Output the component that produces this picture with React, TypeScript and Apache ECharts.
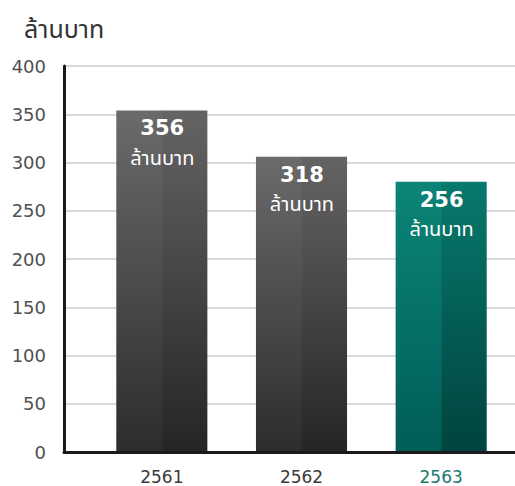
import React, { useEffect, useRef } from "react";
import * as echarts from "echarts";

const categories = ["2561", "2562", "2563"];
// bar heights as drawn in the picture
const barValues = [354, 306, 280];
// values printed on the bars
const labelValues = ["356", "318", "256"];
const unitText = "ล้านบาท";
const yTicks = { min: 0, max: 400, interval: 50 };

const FONT = "'DejaVu Sans', 'Noto Sans Thai', 'Noto Sans', sans-serif";

const grad = (a: string, b: string) =>
  new echarts.graphic.LinearGradient(0, 0, 0, 1, [
    { offset: 0, color: a },
    { offset: 1, color: b },
  ]);

const leftColors = [
  ["#6b6b6b", "#2e2b2c"],
  ["#6b6b6b", "#2e2b2c"],
  ["#0b8577", "#005d57"],
];
const rightColors = [
  ["#656465", "#272425"],
  ["#656465", "#272425"],
  ["#08796d", "#00433e"],
];

export default function App() {
  const ref = useRef<HTMLDivElement>(null);
  useEffect(() => {
    if (!ref.current) return;
    const chart = echarts.init(ref.current, undefined, { renderer: "svg" });
    const TOP = 66;
    const H = 386;
    chart.setOption({
      animation: false,
      backgroundColor: "#ffffff",
      graphic: [
        {
          type: "text",
          left: 24,
          top: 17,
          style: { text: unitText, fontSize: 25, fill: "#333333", fontFamily: FONT },
        },
      ],
      grid: [
        { left: 64, right: 0, top: TOP, height: H },
        { left: 92, right: 4, top: TOP, height: H },
      ],
      xAxis: [
        {
          gridIndex: 0,
          type: "value",
          min: 0,
          max: 1,
          z: 10,
          axisLine: { show: true, lineStyle: { color: "#1c1a1b", width: 3 } },
          axisTick: { show: false },
          axisLabel: { show: false },
          splitLine: { show: false },
        },
        {
          gridIndex: 1,
          type: "category",
          data: categories,
          axisLine: { show: false },
          axisTick: { show: false },
          axisLabel: {
            margin: 16,
            fontSize: 17,
            fontFamily: FONT,
            color: (v: string) => (v === "2563" ? "#1a7a70" : "#3a3a3a"),
          },
        },
      ],
      yAxis: [
        {
          gridIndex: 0,
          type: "value",
          min: yTicks.min,
          max: yTicks.max,
          interval: yTicks.interval,
          axisLine: { show: true, lineStyle: { color: "#1c1a1b", width: 3 } },
          axisTick: { show: false },
          axisLabel: { margin: 18, fontSize: 18, fontFamily: FONT, color: "#505050" },
          splitLine: { show: true, lineStyle: { color: "#d9d9d9", width: 2 } },
        },
        {
          gridIndex: 1,
          type: "value",
          min: yTicks.min,
          max: yTicks.max,
          interval: yTicks.interval,
          show: false,
        },
      ],
      series: [
        {
          type: "bar",
          xAxisIndex: 1,
          yAxisIndex: 1,
          barWidth: 46,
          barGap: "-2%",
          z: 3,
          data: barValues.map((v, i) => ({
            value: v,
            itemStyle: { color: grad(leftColors[i][0], leftColors[i][1]) },
          })),
          label: {
            show: true,
            position: "insideTop",
            distance: 4,
            offset: [23, 0],
            formatter: (p: any) => `{n|${labelValues[p.dataIndex]}}\n{u|${unitText}}`,
            rich: {
              n: {
                fontSize: 21,
                fontWeight: "bold",
                color: "#ffffff",
                lineHeight: 28,
                fontFamily: FONT,
                align: "center",
              },
              u: {
                fontSize: 20,
                color: "#ffffff",
                lineHeight: 31,
                fontFamily: FONT,
                align: "center",
              },
            },
          },
        },
        {
          type: "bar",
          xAxisIndex: 1,
          yAxisIndex: 1,
          barWidth: 46,
          barGap: "-2%",
          z: 2,
          data: barValues.map((v, i) => ({
            value: v,
            itemStyle: { color: grad(rightColors[i][0], rightColors[i][1]) },
          })),
        },
      ],
    });
    return () => chart.dispose();
  }, []);
  return <div ref={ref} style={{ width: 515, height: 486, position: "absolute", left: 0, top: 0 }} />;
}
